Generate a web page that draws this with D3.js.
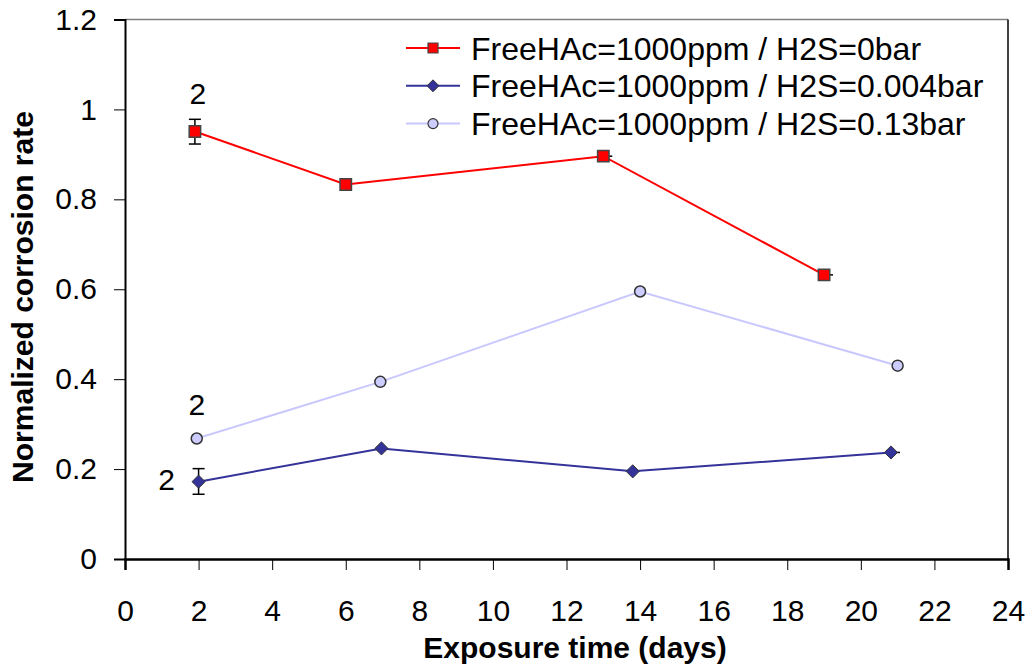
<!DOCTYPE html>
<html>
<head>
<meta charset="utf-8">
<script src="https://cdn.jsdelivr.net/npm/d3@7"></script>
<style>
  body { margin: 0; background: #fff; }
  text { font-family: "Liberation Sans", Arial, sans-serif; }
</style>
</head>
<body>
<div id="chart"></div>
<script>
// Series data
const seriesNames = [
  'FreeHAc=1000ppm / H2S=0bar',
  'FreeHAc=1000ppm / H2S=0.004bar',
  'FreeHAc=1000ppm / H2S=0.13bar'
];
const daysH2S0 = [1.9, 6, 13, 19];
const rateH2S0 = [0.951, 0.833, 0.896, 0.632];
const daysH2S004 = [2, 6.97, 13.8, 20.82];
const rateH2S004 = [0.172, 0.246, 0.195, 0.237];
const daysH2S013 = [1.95, 6.94, 14, 21];
const rateH2S013 = [0.268, 0.394, 0.595, 0.43];

// Error bars (day, low, high)
const errH2S0 = [[1.9, 0.923, 0.978]];
const errH2S004 = [[2, 0.144, 0.201]];
const xTicks = [0, 2, 4, 6, 8, 10, 12, 14, 16, 18, 20, 22, 24];
const yTicks = [0, 0.2, 0.4, 0.6, 0.8, 1, 1.2];

const width = 1033, height = 671;

const svg = d3.select('#chart').append('svg')
    .attr('width', width)
    .attr('height', height);

const x = d3.scaleLinear().domain([0, 24]).range([125, 1008]);
const y = d3.scaleLinear().domain([0, 1.2]).range([559, 19.5]);

// Frame: top grey, right black
svg.append('line')
    .attr('x1', x(0)).attr('x2', x(24))
    .attr('y1', y(1.2)).attr('y2', y(1.2))
    .attr('stroke', '#808080').attr('stroke-width', 1.5);
svg.append('line')
    .attr('x1', x(24)).attr('x2', x(24))
    .attr('y1', y(1.2)).attr('y2', y(0))
    .attr('stroke', '#000').attr('stroke-width', 1.5);

// Axes
const xAxis = svg.append('g')
    .attr('transform', `translate(0,${y(0)})`)
    .call(d3.axisBottom(x).tickValues(xTicks).tickFormat(d3.format('d')).tickSize(11).tickPadding(30));
xAxis.select('.domain').attr('stroke-width', 2.5);
xAxis.selectAll('text').style('font-size', '30px').attr('fill', '#000');

const yAxis = svg.append('g')
    .attr('transform', `translate(${x(0)},0)`)
    .call(d3.axisLeft(y).tickValues(yTicks).tickFormat(d => d === 0 || d === 1 ? d3.format('d')(d) : d3.format('.1f')(d)).tickSize(11).tickPadding(17));
yAxis.select('.domain').attr('stroke-width', 2);
yAxis.selectAll('text').style('font-size', '30px').attr('fill', '#000');

// Axis titles
svg.append('text')
    .attr('x', 575).attr('y', 658)
    .attr('text-anchor', 'middle')
    .style('font-size', '30px').style('font-weight', 'bold')
    .text('Exposure time (days)');
svg.append('text')
    .attr('transform', `translate(33,297) rotate(-90)`)
    .attr('text-anchor', 'middle')
    .style('font-size', '30px').style('font-weight', 'bold')
    .text('Normalized corrosion rate');

const line = d3.line().x(d => x(d[0])).y(d => y(d[1]));

function errorBars(data) {
  const g = svg.append('g').attr('stroke', '#000').attr('stroke-width', 1.5);
  data.forEach(d => {
    g.append('line').attr('x1', x(d[0])).attr('x2', x(d[0])).attr('y1', y(d[1])).attr('y2', y(d[2]));
    g.append('line').attr('x1', x(d[0]) - 6).attr('x2', x(d[0]) + 6).attr('y1', y(d[1])).attr('y2', y(d[1]));
    g.append('line').attr('x1', x(d[0]) - 6).attr('x2', x(d[0]) + 6).attr('y1', y(d[2])).attr('y2', y(d[2]));
  });
}

errorBars(errH2S0);
errorBars(errH2S004);

const s0 = d3.zip(daysH2S0, rateH2S0);
const s1 = d3.zip(daysH2S004, rateH2S004);
const s2 = d3.zip(daysH2S013, rateH2S013);

svg.append('path').datum(s2).attr('d', line)
    .attr('fill', 'none').attr('stroke', '#c8c8ff').attr('stroke-width', 2);
svg.append('path').datum(s1).attr('d', line)
    .attr('fill', 'none').attr('stroke', '#333399').attr('stroke-width', 2);
svg.append('path').datum(s0).attr('d', line)
    .attr('fill', 'none').attr('stroke', '#ff0000').attr('stroke-width', 2);

// small black stubs to the right of some markers
[s0[2], s0[3], s1[3]].forEach(d => {
  svg.append('line')
      .attr('x1', x(d[0])).attr('x2', x(d[0]) + 9)
      .attr('y1', y(d[1])).attr('y2', y(d[1]))
      .attr('stroke', '#000').attr('stroke-width', 1.5);
});

const squareSym = d3.symbol().type(d3.symbolSquare).size(130);
const diamondSym = d3.symbol().type(d3.symbolDiamond2).size(110);

svg.append('g').selectAll('circle').data(s2).join('circle')
    .attr('cx', d => x(d[0])).attr('cy', d => y(d[1])).attr('r', 5.5)
    .attr('fill', '#ccccff').attr('stroke', '#333').attr('stroke-width', 1.5);
svg.append('g').selectAll('path').data(s1).join('path')
    .attr('d', diamondSym)
    .attr('transform', d => `translate(${x(d[0])},${y(d[1])})`)
    .attr('fill', '#333399').attr('stroke', '#333').attr('stroke-width', 1);
svg.append('g').selectAll('path').data(s0).join('path')
    .attr('d', squareSym)
    .attr('transform', d => `translate(${x(d[0])},${y(d[1])})`)
    .attr('fill', '#ff0000').attr('stroke', '#444').attr('stroke-width', 1.5);

// "2" annotations (number of tests)
const notes = [[s0[0], 3, -27], [s2[0], 0, -24], [s1[0], -32, 8]];
notes.forEach(([d, dx, dy]) => {
  svg.append('text')
      .attr('x', x(d[0]) + dx).attr('y', y(d[1]) + dy)
      .attr('text-anchor', 'middle')
      .style('font-size', '30px')
      .text('2');
});

// Legend
const legend = svg.append('g').attr('transform', 'translate(406,48)');
const legendColors = ['#ff0000', '#333399', '#c8c8ff'];
seriesNames.forEach((name, i) => {
  const row = legend.append('g').attr('transform', `translate(0,${i * 37.8})`);
  row.append('line').attr('x1', 0).attr('x2', 54).attr('y1', 0).attr('y2', 0)
      .attr('stroke', legendColors[i]).attr('stroke-width', 2);
  if (i === 0) {
    row.append('path').attr('d', d3.symbol().type(d3.symbolSquare).size(100)).attr('transform', 'translate(27,0)')
        .attr('fill', '#ff0000').attr('stroke', '#444').attr('stroke-width', 1.2);
  } else if (i === 1) {
    row.append('path').attr('d', d3.symbol().type(d3.symbolDiamond2).size(90)).attr('transform', 'translate(27,0)')
        .attr('fill', '#333399').attr('stroke', '#333');
  } else {
    row.append('circle').attr('cx', 27).attr('cy', 0).attr('r', 5)
        .attr('fill', '#ccccff').attr('stroke', '#333').attr('stroke-width', 1.2);
  }
  row.append('text').attr('x', 65).attr('y', 11.5)
      .style('font-size', '32px')
      .text(name);
});
</script>
</body>
</html>
